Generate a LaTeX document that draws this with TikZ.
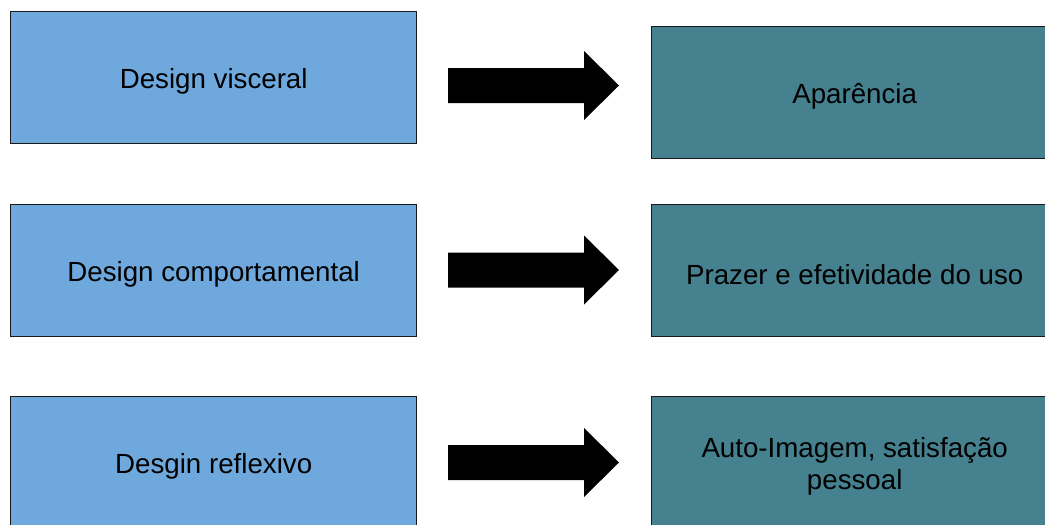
\documentclass[tikz,border=0pt]{standalone}
\usepackage{fontspec}
\setmainfont{Liberation Sans}
\definecolor{levelblue}{HTML}{6FA8DC}
\definecolor{resultteal}{HTML}{45818E}
\begin{document}
\begin{tikzpicture}[x=1pt,y=-1pt,
  box/.style={draw=black!90, line width=1.4pt, minimum width=406pt,
    minimum height=132pt, inner sep=0pt, anchor=north west},
  boxtext/.style={font=\fontsize{27.7}{32}\selectfont, align=center,
    yshift=-3.5pt},
  levelbox/.style={box, fill=levelblue},
  resultbox/.style={box, fill=resultteal},
  blockarrow/.pic={
    \fill[black] (0,-17.5) -- (136,-17.5) -- (136,-34.5) -- (171,0)
      -- (136,34.5) -- (136,17.5) -- (0,17.5) -- cycle;
  }]
\useasboundingbox (0,0) rectangle (1045,525);
\clip (0,0) rectangle (1045,525);

% design levels
\node[levelbox, label={[boxtext]center:Design visceral}] (visc) at (10,11) {};
\node[levelbox, label={[boxtext]center:Design comportamental}] (comp) at (10,204) {};
\node[levelbox, label={[boxtext]center:Desgin reflexivo}] (refl) at (10,396) {};

% what each level addresses
\node[resultbox, label={[boxtext]center:Aparência}] (apar) at (651,26) {};
\node[resultbox, label={[boxtext]center:Prazer e efetividade do uso}] (praz) at (651,204) {};
\node[resultbox, label={[boxtext]center:{Auto-Imagem, satisfação\\pessoal}}] (auto) at (651,396) {};

% block arrows between the columns
\pic at (448,85.5)  {blockarrow};
\pic at (448,270)   {blockarrow};
\pic at (448,462.5) {blockarrow};
\end{tikzpicture}
\end{document}
